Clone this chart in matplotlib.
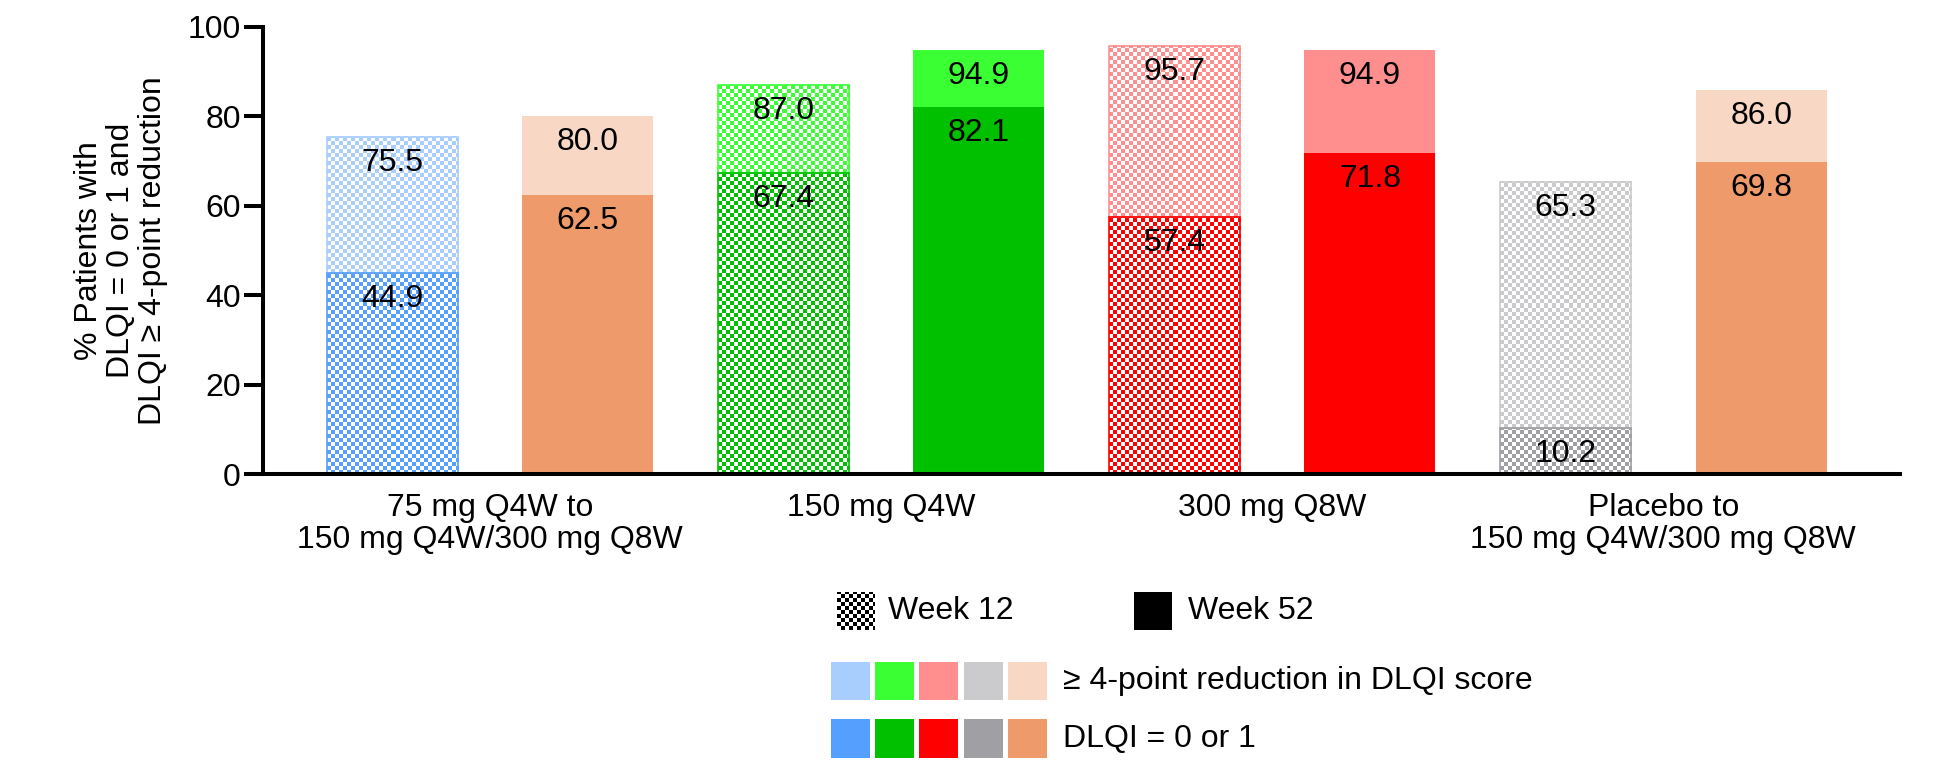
import numpy as np
import matplotlib
matplotlib.use("Agg")
import matplotlib.pyplot as plt
from matplotlib.colors import to_rgb
from matplotlib.patches import Rectangle

plt.rcParams['font.family'] = ['Liberation Sans', 'DejaVu Sans']

# ---- data -------------------------------------------------------------
groups = ["75 mg Q4W to\n150 mg Q4W/300 mg Q8W", "150 mg Q4W", "300 mg Q8W",
          "Placebo to\n150 mg Q4W/300 mg Q8W"]
wk12_reduction = [75.5, 87.0, 95.7, 65.3]   # >= 4-point reduction, week 12
wk12_dlqi01 = [44.9, 67.4, 57.4, 10.2]      # DLQI = 0 or 1, week 12
wk52_reduction = [80.0, 94.9, 94.9, 86.0]   # >= 4-point reduction, week 52
wk52_dlqi01 = [62.5, 82.1, 71.8, 69.8]      # DLQI = 0 or 1, week 52

light_colors = ["#A8CEFE", "#39FF33", "#FF8F8F", "#CBCBCD", "#F8D8C5"]
dark_colors = ["#559FFE", "#00C000", "#FF0000", "#A0A0A4", "#EF9A6A"]
wk12_color_idx = [0, 1, 2, 3]
wk52_color_idx = [4, 1, 2, 4]

yticks = [0, 20, 40, 60, 80, 100]
ylabel = "% Patients with\nDLQI = 0 or 1 and\nDLQI \u2265 4-point reduction"

FS = 23
W, H = 1941, 760

fig = plt.figure(figsize=(W / 100, H / 100), dpi=100)
ax = fig.add_axes([263 / W, 286 / H, (1900 - 263) / W, (733 - 286) / H])
ax.set_facecolor('none')
ax.set_xlim(-0.66, 7.71)
ax.set_ylim(0, 100)
ax.set_autoscale_on(False)

bar_w = 0.67


def checker(color, w, h, cell=4):
    jj, ii = np.meshgrid(np.arange(w), np.arange(h))
    mask = ((ii // cell + jj // cell) % 2).astype(bool)
    img = np.ones((h, w, 3))
    img[mask] = to_rgb(color)
    return img


def checker_bar(x, bottom, top, color):
    x0, x1 = x - bar_w / 2, x + bar_w / 2
    p0 = ax.transData.transform((x0, bottom))
    p1 = ax.transData.transform((x1, top))
    w = max(1, int(round(p1[0] - p0[0])))
    h = max(1, int(round(p1[1] - p0[1])))
    ax.imshow(checker(color, w, h), extent=(x0, x1, bottom, top), origin='lower',
              interpolation='nearest', aspect='auto', zorder=1)
    ax.bar(x, top - bottom, bottom=bottom, width=bar_w, facecolor='none',
           edgecolor=color, linewidth=1.2, zorder=2)


def label(x, v):
    ax.annotate(f"{v:.1f}", (x, v), xytext=(0, -26), textcoords='offset pixels',
                ha='center', va='center', fontsize=FS, zorder=5)


for g in range(len(groups)):
    x12 = 2 * g
    x52 = 2 * g + 1
    # week 12: checkered bars
    c12 = wk12_color_idx[g]
    checker_bar(x12, wk12_dlqi01[g], wk12_reduction[g], light_colors[c12])
    checker_bar(x12, 0, wk12_dlqi01[g], dark_colors[c12])
    label(x12, wk12_reduction[g])
    label(x12, wk12_dlqi01[g])
    # week 52: solid bars
    c52 = wk52_color_idx[g]
    ax.bar(x52, wk52_reduction[g] - wk52_dlqi01[g], bottom=wk52_dlqi01[g], width=bar_w,
           color=light_colors[c52], zorder=1)
    ax.bar(x52, wk52_dlqi01[g], width=bar_w, color=dark_colors[c52], zorder=1)
    label(x52, wk52_reduction[g])
    label(x52, wk52_dlqi01[g])

ax.set_xlim(-0.66, 7.71)
ax.set_ylim(0, 100)

# axes styling
for s in ['top', 'right']:
    ax.spines[s].set_visible(False)
for s in ['left', 'bottom']:
    ax.spines[s].set_linewidth(2.9)
    ax.spines[s].set_zorder(6)
ax.set_yticks(yticks)
ax.tick_params(axis='y', length=14, width=2.9, labelsize=FS, pad=2)
ax.set_xticks([2 * g + 0.5 for g in range(len(groups))])
ax.set_xticklabels(groups, fontsize=FS, linespacing=1.05)
ax.tick_params(axis='x', length=0, pad=14)
ax.set_ylabel(ylabel, fontsize=FS, linespacing=1.08, labelpad=14)

# ---- legend -------------------------------------------------------------
def fx(px):
    return px / W


def fy(py):
    return (H - py) / H


sq = 38
legend_checker = checker('black', sq, sq)
fig.figimage(legend_checker, xo=837, yo=H - 630, origin='lower', zorder=3)
fig.text(fx(888), fy(611), "Week 12", fontsize=FS, va='center', ha='left')
fig.add_artist(Rectangle((fx(1134), fy(630)), sq / W, sq / H, transform=fig.transFigure,
                         facecolor='black', edgecolor='none'))
fig.text(fx(1188), fy(611), "Week 52", fontsize=FS, va='center', ha='left')

for i in range(5):
    x = 831 + 44.2 * i
    fig.add_artist(Rectangle((fx(x), fy(700)), 39 / W, 38 / H, transform=fig.transFigure,
                             facecolor=light_colors[i], edgecolor='none'))
    fig.add_artist(Rectangle((fx(x), fy(758)), 39 / W, 39 / H, transform=fig.transFigure,
                             facecolor=dark_colors[i], edgecolor='none'))
fig.text(fx(1063), fy(681), "\u2265 4-point reduction in DLQI score", fontsize=FS,
         va='center', ha='left')
fig.text(fx(1063), fy(739), "DLQI = 0 or 1", fontsize=FS, va='center', ha='left')

fig.savefig("out.png", dpi=100)
